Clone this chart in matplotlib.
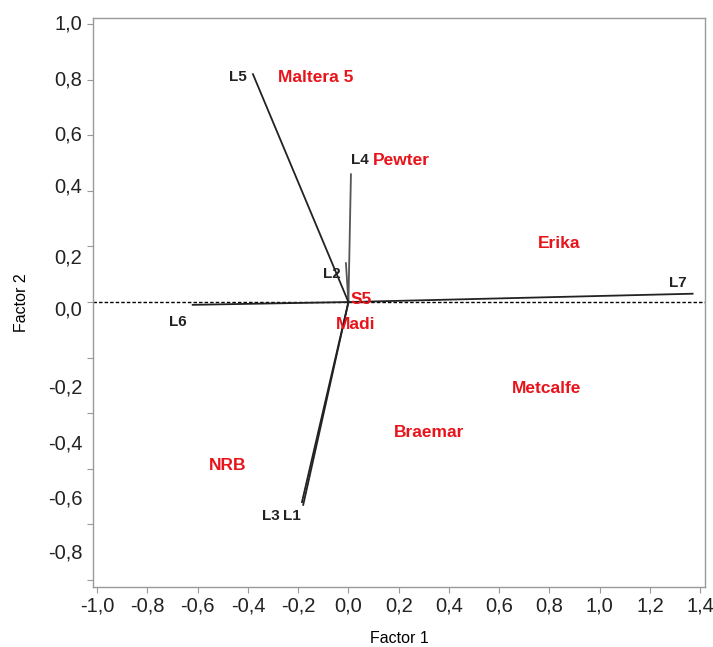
import matplotlib
matplotlib.use("Agg")
import matplotlib.pyplot as plt
import numpy as np

# loading vectors (factor 1, factor 2)
vec_names = ["L1", "L2", "L3", "L4", "L5", "L6", "L7"]
vec_f1 = [-0.18, -0.01, -0.185, 0.01, -0.38, -0.62, 1.37]
vec_f2 = [-0.73, 0.14, -0.72, 0.46, 0.82, -0.01, 0.03]

# where the vector labels sit
vlab_names = ["L5", "L4", "L2", "L6", "L7", "L3", "L1"]
vlab_f1 = [-0.44, 0.045, -0.065, -0.68, 1.31, -0.31, -0.225]
vlab_f2 = [0.81, 0.51, 0.10, -0.07, 0.07, -0.77, -0.77]

# cultivar scores
cult_names = ["Maltera 5", "Pewter", "Erika", "S5", "Madi", "Metcalfe", "Braemar", "NRB"]
cult_f1 = [-0.13, 0.21, 0.84, 0.05, 0.03, 0.79, 0.32, -0.48]
cult_f2 = [0.81, 0.51, 0.21, 0.01, -0.08, -0.31, -0.47, -0.59]

xticks = [-1.0, -0.8, -0.6, -0.4, -0.2, 0.0, 0.2, 0.4, 0.6, 0.8, 1.0, 1.2, 1.4]
yticks = [1.0, 0.8, 0.6, 0.4, 0.2, 0.0, -0.2, -0.4, -0.6, -0.8, -1.0]
# the y labels in the original are drawn a little off their ticks
ylab_text = ["1,0", "0,8", "0,6", "0,4", "0,2", "0,0", "-0,2", "-0,4", "-0,6", "-0,8"]
ylab_pos = [1.0, 0.8, 0.6, 0.415, 0.16, -0.03, -0.31, -0.51, -0.71, -0.905]

fig = plt.figure(figsize=(7.13, 6.47), dpi=100)
ax = fig.add_axes([0.130, 0.093, 0.859, 0.879])

ax.axhline(0, color="black", lw=1.0, ls=(0, (2.5, 1.5)), zorder=1)

for n, x, y in zip(vec_names, vec_f1, vec_f2):
    c = "#555555" if n in ("L2", "L4") else "#222222"
    ax.plot([0, x], [0, y], color=c, lw=1.3, zorder=2)

for n, x, y in zip(vlab_names, vlab_f1, vlab_f2):
    ax.text(x, y, n, ha="center", va="center", fontsize=11,
            fontweight="bold", color="#222222", family="Liberation Sans")

for n, x, y in zip(cult_names, cult_f1, cult_f2):
    ax.text(x, y, n, ha="center", va="center", fontsize=12.5,
            fontweight="bold", color="#e8141b", family="Liberation Sans")

ax.set_xlim(-1.018, 1.42)
ax.set_ylim(-1.025, 1.022)

ax.set_xticks(xticks)
ax.set_xticklabels([f"{v:.1f}".replace(".", ",") for v in xticks],
                   fontsize=14.5, family="Liberation Sans")
ax.set_yticks(yticks)
ax.set_yticklabels([])
ytr = ax.get_yaxis_transform()
for t, p in zip(ylab_text, ylab_pos):
    ax.text(-0.017, p, t, transform=ytr, ha="right", va="center",
            fontsize=14.5, family="Liberation Sans", color="#222222")

ax.tick_params(axis="both", length=4, color="#999999", width=0.8)
ax.tick_params(axis="x", pad=3, labelcolor="#222222")
for s in ax.spines.values():
    s.set_color("#999999")
    s.set_linewidth(1.0)

ax.set_xlabel("Factor 1", fontsize=11.5, family="Liberation Sans", labelpad=11)
ax.set_ylabel("Factor 2", fontsize=11.5, family="Liberation Sans", labelpad=38)

fig.savefig("out.png", dpi=100)
